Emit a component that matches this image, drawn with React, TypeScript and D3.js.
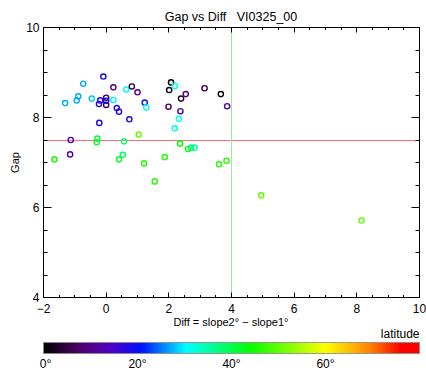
import React from "react";
import * as d3 from "d3";

// Slope difference (deg), gap and latitude for each station
const diffs = [
  -1.31, -0.94, -0.89, -0.73, -0.46, -0.23, -0.19, -0.09, 0.0, 0.0, 0.0, -0.22,
  -1.13, -1.15, 0.23, 0.23, 0.34, 0.41, 0.64, 0.74, 0.82, 1.0, 1.23, 1.28,
  1.04, -0.28, -0.3, 0.57, -1.65, 0.53, 0.41, 1.21, 1.55, 1.87,
  2.07, 2.01, 2.19, 2.39, 2.54, 1.99, 2.37, 2.32, 2.19, 2.36, 2.61, 2.82, 2.71,
  3.14, 3.66, 3.86, 3.6, 3.84, 4.95, 8.15,
];
const gaps = [
  8.32, 8.38, 8.47, 8.75, 8.42, 8.3, 8.38, 8.91, 8.44, 8.28, 8.37, 7.88,
  7.5, 7.18, 8.67, 8.39, 8.21, 8.13, 8.62, 7.96, 8.69, 8.56, 8.33, 8.22,
  7.62, 7.53, 7.45, 7.47, 7.07, 7.17, 7.07, 6.98, 6.58, 7.12,
  8.78, 8.61, 8.7, 8.42, 8.52, 8.24, 8.14, 7.97, 7.76, 7.42, 7.3, 7.33, 7.33,
  8.65, 8.52, 8.25, 6.96, 7.04, 6.27, 5.71,
];
const latitudes = [
  27, 27, 27, 27, 28, 19, 18, 20, 6, 6, 18, 19,
  13, 13, 10, 30, 18, 18, 31, 18, 5, 10, 19, 31,
  50, 41, 42, 38, 45, 39, 42, 46, 46, 46,
  0, 1, 31, 3, 10, 7, 12, 31, 32, 44, 45, 34, 38,
  5, 1, 12, 46, 46, 50, 50,
];

const xTicks = [-2, 0, 2, 4, 6, 8, 10];
const yTicks = [4, 6, 8, 10];
const latTicks = [0, 20, 40, 60];

const gapThreshold = 7.5;
const diffThreshold = 4;

const title = "Gap vs Diff   VI0325_00";
const xTitle = "Diff = slope2° \u2212 slope1°";
const yTitle = "Gap";
const barTitle = "latitude";

// Rainbow colour table running black → purple → blue → cyan → green → yellow → red
const rampStops: [number, string][] = [
  [0, "#000000"],
  [0.1, "#50006e"],
  [0.18, "#5000c8"],
  [0.26, "#0010ff"],
  [0.38, "#00ffff"],
  [0.55, "#00ff00"],
  [0.75, "#ffff00"],
  [0.87, "#ff8000"],
  [0.95, "#ff0000"],
  [1, "#ff0000"],
];

const W = 426;
const H = 374;
const FONT = "'Liberation Sans', Arial, Helvetica, sans-serif";

// snap a coordinate to the centre of a device pixel so 1px lines stay crisp
const crisp = (v: number) => Math.floor(v) + 0.5;

export default function App() {
  const left = 43.5;
  const right = 419.5;
  const top = 27.5;
  const bottom = 297.5;

  const x = d3.scaleLinear().domain([-2, 10]).range([left, right]);
  const y = d3.scaleLinear().domain([4, 10]).range([bottom, top]);

  const ramp = d3
    .scaleLinear<string>()
    .domain(rampStops.map((s) => s[0]))
    .range(rampStops.map((s) => s[1]))
    .interpolate(d3.interpolateRgb)
    .clamp(true);
  const latMax = 80;
  const colour = (lat: number) => ramp(lat / latMax);

  const bar = { x0: 43.5, x1: 419.5, y0: 342.5, y1: 353.5 };
  const latScale = d3.scaleLinear().domain([0, latMax]).range([bar.x0, bar.x1]);

  const xMinor = d3.range(-2, 10.001, 0.5);
  const yMinor = d3.range(4, 10.001, 0.5);

  const gradId = "latRamp";

  return (
    <svg width={W} height={H} style={{ position: "absolute", left: 0, top: 0, background: "#fff" }} fontFamily={FONT}>
      <rect width={W} height={H} fill="#fff" />

      {/* reference lines */}
      <line x1={left} x2={right} y1={crisp(y(gapThreshold))} y2={crisp(y(gapThreshold))} stroke="#ff6f6f" strokeWidth={1} />
      <line x1={crisp(x(diffThreshold))} x2={crisp(x(diffThreshold))} y1={top} y2={bottom} stroke="#9be89b" strokeWidth={1} />

      {/* station markers */}
      {diffs.map((d, i) => (
        <circle
          key={i}
          cx={x(d)}
          cy={y(gaps[i])}
          r={2.6}
          fill="none"
          stroke={colour(latitudes[i])}
          strokeWidth={1.4}
        />
      ))}

      {/* frame */}
      <rect x={left} y={top} width={right - left} height={bottom - top} fill="none" stroke="#000" strokeWidth={1} />

      {/* x ticks, bottom and top */}
      {xMinor.map((v) => {
        const major = Math.abs(v % 2) < 1e-6;
        const len = major ? 5 : 2.5;
        const px = crisp(x(v));
        return (
          <g key={"xt" + v}>
            <line x1={px} x2={px} y1={bottom} y2={bottom - len} stroke="#000" />
            <line x1={px} x2={px} y1={top} y2={top + len} stroke="#000" />
          </g>
        );
      })}
      {yMinor.map((v) => {
        const major = Math.abs(v % 2) < 1e-6;
        const len = major ? 8 : 4;
        const py = crisp(y(v));
        return (
          <g key={"yt" + v}>
            <line x1={left} x2={left + len} y1={py} y2={py} stroke="#000" />
            <line x1={right} x2={right - len} y1={py} y2={py} stroke="#000" />
          </g>
        );
      })}

      {/* tick labels */}
      {xTicks.map((v) => (
        <text key={"xl" + v} x={x(v)} y={313} fontSize={12} textAnchor="middle" fill="#000">
          {v < 0 ? "\u2212" + Math.abs(v) : v}
        </text>
      ))}
      {yTicks.map((v) => (
        <text key={"yl" + v} x={39.5} y={y(v) + 4.3} fontSize={12} textAnchor="end" fill="#000">
          {v}
        </text>
      ))}

      {/* titles */}
      <text x={231} y={21} fontSize={12.5} textAnchor="middle" fill="#000" style={{ whiteSpace: "pre" }}>
        {title}
      </text>
      <text x={231} y={326} fontSize={11} textAnchor="middle" fill="#000">
        {xTitle}
      </text>
      <text x={0} y={0} fontSize={11} textAnchor="middle" fill="#000" transform={`translate(19,${(top + bottom) / 2}) rotate(-90)`}>
        {yTitle}
      </text>

      {/* latitude colour bar */}
      <defs>
        <linearGradient id={gradId} x1="0" x2="1" y1="0" y2="0">
          {rampStops.map(([t, c], i) => (
            <stop key={i} offset={t} stopColor={c} />
          ))}
        </linearGradient>
      </defs>
      <rect x={bar.x0} y={bar.y0} width={bar.x1 - bar.x0} height={bar.y1 - bar.y0} fill={`url(#${gradId})`} stroke="#888" strokeWidth={0.8} />
      <text x={bar.x1} y={338} fontSize={12} textAnchor="end" fill="#000">
        {barTitle}
      </text>
      {latTicks.map((v) => (
        <text key={"lt" + v} x={latScale(v) + (v === 0 ? 2 : 0)} y={368} fontSize={12} textAnchor="middle" fill="#000">
          {v + "°"}
        </text>
      ))}
    </svg>
  );
}
